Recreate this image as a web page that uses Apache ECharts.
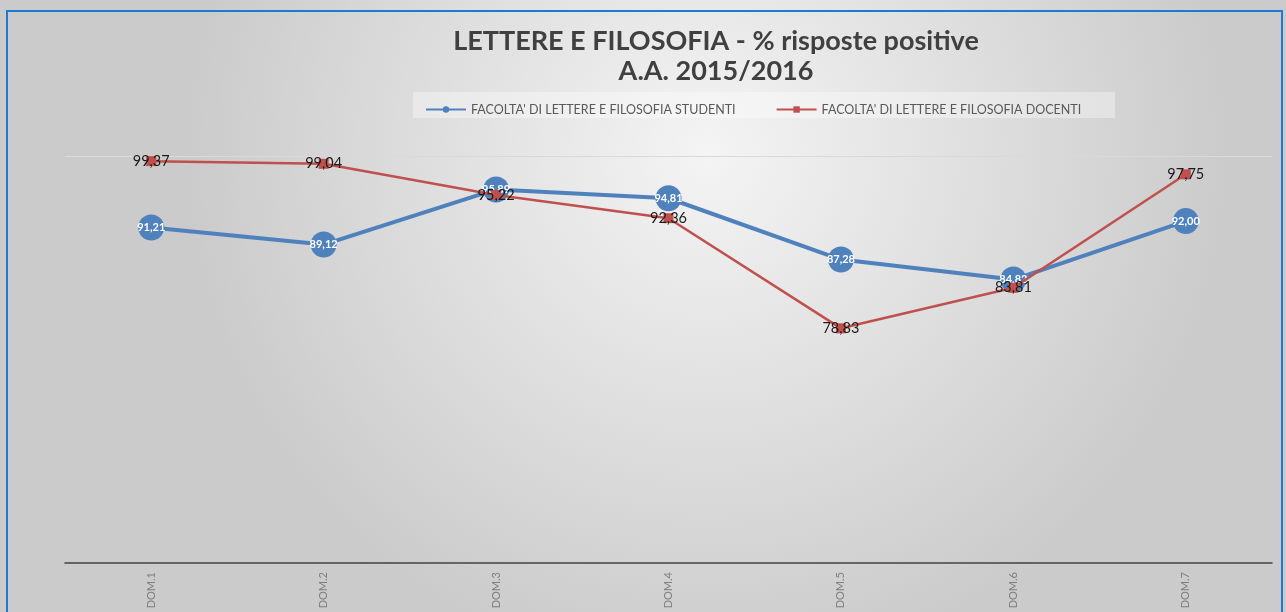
<!DOCTYPE html>
<html><head><meta charset="utf-8">
<script src="https://cdn.jsdelivr.net/npm/echarts@6/dist/echarts.min.js"></script>
<style>html,body{margin:0;padding:0;background:#fff}#c{width:1286px;height:612px}</style>
</head><body><div id="c"></div>
<script>
const categories = ['DOM.1','DOM.2','DOM.3','DOM.4','DOM.5','DOM.6','DOM.7'];
const studenti = [91.21, 89.12, 95.89, 94.81, 87.28, 84.82, 92.00];
const docenti = [99.37, 99.04, 95.22, 92.36, 78.83, 83.81, 97.75];
const seriesNames = ["FACOLTA' DI LETTERE E FILOSOFIA STUDENTI", "FACOLTA' DI LETTERE E FILOSOFIA DOCENTI"];
const titleLines = ['LETTERE E FILOSOFIA - % risposte positive', 'A.A. 2015/2016'];

const fmt = p => p.value.toFixed(2).replace('.', ',');
const FONT = 'Lato, "Open Sans", sans-serif';
const chart = echarts.init(document.getElementById('c'), null, {renderer: 'canvas'});
chart.setOption({
  animation: false,
  backgroundColor: {
    type: 'radial', x: 0.55, y: 0.25, r: 0.85,
    colorStops: [{offset: 0, color: '#f4f4f4'}, {offset: 1, color: '#cbcbcb'}]
  },
  textStyle: {fontFamily: FONT},
  graphic: [{
    type: 'rect', shape: {x: 7, y: 11, width: 1275, height: 612},
    style: {fill: 'none', stroke: '#1f78d1', lineWidth: 2}, z: 100
  }, {
    type: 'rect', shape: {x: 413, y: 92, width: 702, height: 26},
    style: {fill: 'rgba(255,255,255,0.35)'}, z: 0
  }],
  title: {
    text: titleLines.join('\n'),
    left: 711, top: 21, textAlign: 'center',
    textStyle: {fontSize: 27, fontWeight: 'bold', color: '#404040', lineHeight: 30, fontFamily: FONT}
  },
  legend: {
    top: 98, left: 420, itemGap: 40, itemWidth: 40, itemHeight: 8,
    textStyle: {fontSize: 12.5, color: '#595959', fontFamily: FONT},
    data: seriesNames
  },
  grid: {left: 65, right: 14, top: 156, bottom: 49},
  xAxis: {
    type: 'category', data: categories, boundaryGap: true,
    axisLine: {lineStyle: {color: '#404040', width: 1.5}},
    axisTick: {show: false},
    axisLabel: {rotate: 90, color: '#7f7f7f', fontSize: 11, margin: 9, fontFamily: FONT}
  },
  yAxis: {
    type: 'value', min: 50, max: 100, interval: 50,
    axisLabel: {show: false}, axisLine: {show: false}, axisTick: {show: false},
    splitLine: {lineStyle: {color: '#d9d9d9', width: 1}}
  },
  series: [{
    name: seriesNames[0], type: 'line', data: studenti,
    symbol: 'circle', symbolSize: 26,
    itemStyle: {color: '#4f81bd'},
    lineStyle: {color: '#4f81bd', width: 4},
    label: {show: true, position: 'inside', formatter: fmt, color: '#ffffff', fontWeight: 'bold', fontSize: 11, fontFamily: FONT},
    z: 2
  }, {
    name: seriesNames[1], type: 'line', data: docenti,
    symbol: 'rect', symbolSize: 10,
    itemStyle: {color: '#c0504d'},
    lineStyle: {color: '#c0504d', width: 2.5},
    label: {show: true, position: 'inside', formatter: fmt, color: '#1a1a1a', fontSize: 14.5, fontFamily: FONT},
    z: 3
  }]
});
</script></body></html>
